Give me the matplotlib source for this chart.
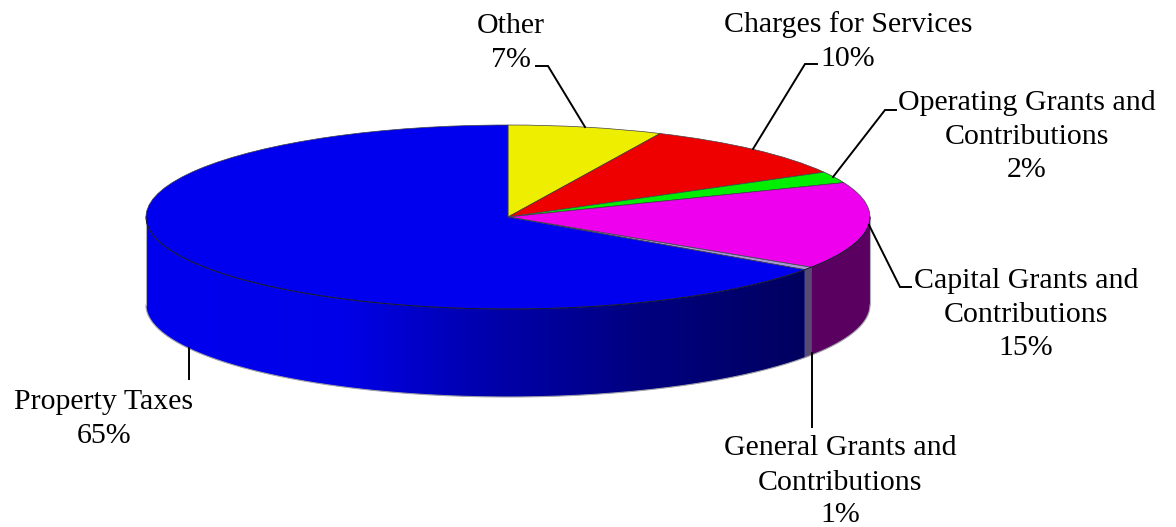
import numpy as np
import matplotlib
matplotlib.use('Agg')
import matplotlib.pyplot as plt
from matplotlib.colors import LinearSegmentedColormap
from matplotlib.patches import Polygon
from matplotlib.transforms import Affine2D

# slices clockwise from 12 o'clock
names = ['Other', 'Charges for Services', 'Operating Grants and\nContributions',
         'Capital Grants and\nContributions', 'General Grants and\nContributions', 'Property Taxes']
pct_labels = ['7%', '10%', '2%', '15%', '1%', '65%']
values = [6.9, 10.0, 2.0, 15.3, 0.5, 65.3]
top_colors = ['#EEEE00', '#EE0000', '#00EE00', '#EE00EE', '#A898D8', '#0000EE']
wall_colors = ['#6E6E00', '#6E0000', '#006E00', '#5A0060', '#5A4A72', None]

W, H = 1176, 527
cx, cy, rx, ry, depth = 508, 217, 362, 92, 88

plt.rcParams['font.family'] = ['Liberation Serif', 'DejaVu Serif']
fig = plt.figure(figsize=(W / 100, H / 100), dpi=100)
ax = fig.add_axes([0, 0, 1, 1])

# axes units: one radius, the ellipse comes from the limits
wedges, _ = ax.pie(values, startangle=90, counterclock=False, colors=top_colors,
                   wedgeprops=dict(edgecolor='#404048', linewidth=0.5))
for w in wedges:
    w.set_zorder(5)
ax.set_aspect('auto')
xlim = (-cx / rx, (W - cx) / rx)
ylim = ((cy - H) / ry, cy / ry)
d = depth / ry

blue_cmap = LinearSegmentedColormap.from_list(
    'side', [(0, '#0000EE'), (0.3, '#0000E8'), (0.5, '#0000B0'), (0.75, '#000080'), (1, '#000060')])


def wall_poly(t1, t2):
    t = np.radians(np.linspace(t1, t2, 200))
    x, y = np.cos(t), np.sin(t)
    return np.r_[x, x[::-1]], np.r_[y, y[::-1] - d]


for w, col in zip(wedges, wall_colors):
    t1, t2 = max(w.theta1, -180), min(w.theta2, 0)
    if t1 >= t2:
        continue
    px_x, px_y = wall_poly(t1, t2)
    poly = Polygon(np.c_[px_x, px_y], closed=True, zorder=2,
                   facecolor=col if col else 'none', edgecolor='none')
    ax.add_patch(poly)
    if col is None:
        grad = np.linspace(0, 1, 512).reshape(1, -1)
        im = ax.imshow(grad, cmap=blue_cmap, extent=(-1, px_x.max(), -2, 1),
                       aspect='auto', zorder=2, interpolation='bilinear')
        im.set_clip_path(poly)

# rim lines
t = np.radians(np.linspace(-180, 0, 300))
ax.plot(np.cos(t), np.sin(t), color='#101030', lw=0.6, zorder=6)
ax.plot(np.cos(t), np.sin(t) - d, color='#A0A0A8', lw=0.8, zorder=3)
ax.plot([-1, -1], [0, -d], color='#B0B0B8', lw=0.8, zorder=3)
ax.plot([1, 1], [0, -d], color='#B0B0B8', lw=0.8, zorder=3)
ax.set_xlim(*xlim)
ax.set_ylim(*ylim)
ax.axis('off')

# labels and leaders are placed in image pixels, y values are text baselines
px = Affine2D().scale(1 / W, -1 / H).translate(0, 1) + fig.transFigure
label_pos = [(511, 33, 67), (848, 32, 66), (1027, 110, 144, 177), (1026, 288, 322, 355),
             (840, 455, 490, 522), (104, 409, 443)]
leaders = [[(536, 66), (548, 66), (585, 127)],
           [(817, 64), (805, 64), (753, 149)],
           [(896, 110), (885, 110), (833, 177)],
           [(911, 287), (900, 287), (869, 225)],
           [(812, 353), (812, 427)],
           [(189, 348), (189, 379)]]

for name, pct, pos, pts in zip(names, pct_labels, label_pos, leaders):
    lines = name.split('\n') + [pct]
    for s, y in zip(lines, pos[1:]):
        ax.text(pos[0], y, s, transform=px, ha='center', va='baseline', fontsize=21.5, color='black', zorder=8)
    xs, ys = zip(*pts)
    ax.plot(xs, ys, transform=px, color='black', lw=1.4, zorder=7, solid_joinstyle='miter')

fig.savefig('out.png', dpi=100, facecolor='white')
